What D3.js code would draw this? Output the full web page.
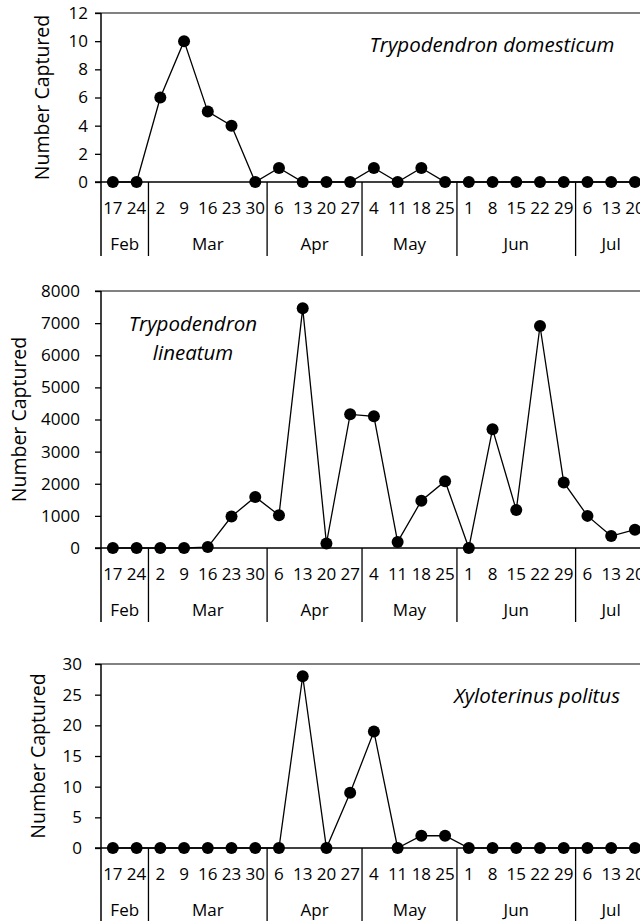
<!DOCTYPE html>
<html lang="en">

<head>
  <meta charset="UTF-8">
  <title>Bark beetle captures</title>
  <script src="https://d3js.org/d3.v7.min.js"></script>
  <style>
    body {
      margin: 0;
      background: #fff;
    }

    svg {
      display: block;
      font-family: "Open Sans", sans-serif;
    }
  </style>
</head>

<body>
  <div id="chart"></div>

  <script>
    // sample dates (week of the year), grouped by month
    const days = ["17", "24", "2", "9", "16", "23", "30", "6", "13", "20", "27",
      "4", "11", "18", "25", "1", "8", "15", "22", "29", "6", "13", "20"];
    const months = [
      { name: "Feb", count: 2 },
      { name: "Mar", count: 5 },
      { name: "Apr", count: 4 },
      { name: "May", count: 4 },
      { name: "Jun", count: 5 },
      { name: "Jul", count: 3 }
    ];

    const domesticum = [0, 0, 6, 10, 5, 4, 0, 1, 0, 0, 0, 1, 0, 1, 0, 0, 0, 0, 0, 0, 0, 0, 0];
    const lineatum = [0, 0, 0, 0, 30, 980, 1590, 1020, 7460, 140, 4160, 4100, 190, 1470, 2080,
      0, 3700, 1180, 6910, 2040, 1000, 370, 570];
    const politus = [0, 0, 0, 0, 0, 0, 0, 0, 28, 0, 9, 19, 0, 2, 2, 0, 0, 0, 0, 0, 0, 0, 0];

    const panels = [
      { values: domesticum, max: 12, step: 2, title: ["Trypodendron domesticum"], top: 13, bottom: 182, titleX: 492, titleY: 52, labelX: 42, pad: 7 },
      { values: lineatum, max: 8000, step: 1000, title: ["Trypodendron", "lineatum"], top: 291, bottom: 548, titleX: 193, titleY: 331, labelX: 19, pad: 15 },
      { values: politus, max: 30, step: 5, title: ["Xyloterinus politus"], top: 664, bottom: 848, titleX: 537, titleY: 703, labelX: 38, pad: 13 }
    ];

    const width = 640;
    const height = 921;
    const axisX = 101;
    const band = 23.73;

    const svg = d3.select("#chart")
      .append("svg")
      .attr("width", width)
      .attr("height", height);

    const x = d3.scaleBand()
      .domain(d3.range(days.length))
      .range([axisX, axisX + band * days.length])
      .padding(0);

    // month boundaries, as indexes of the first day in each month
    let start = 0;
    const monthInfo = months.map(m => {
      const info = { name: m.name, from: start, to: start + m.count };
      start += m.count;
      return info;
    });

    panels.forEach(p => {
      const y = d3.scaleLinear()
        .domain([0, p.max])
        .range([p.bottom, p.top]);

      const g = svg.append("g");

      // top border of the plot area
      g.append("line")
        .attr("x1", axisX - 6)
        .attr("x2", width)
        .attr("y1", y(p.max))
        .attr("y2", y(p.max))
        .attr("stroke", "#595959")
        .attr("stroke-width", 1.5);

      // y axis
      const yAxis = g.append("g")
        .attr("transform", `translate(${axisX},0)`)
        .call(d3.axisLeft(y)
          .tickValues(d3.range(0, p.max + 1, p.step))
          .tickFormat(d3.format("d"))
          .tickSize(6)
          .tickPadding(p.pad));
      yAxis.select(".domain").remove();
      yAxis.selectAll(".tick line").attr("stroke", "#000").attr("stroke-width", 1.3);
      yAxis.selectAll(".tick text")
        .attr("font-size", 17)
        .attr("font-family", "Open Sans, sans-serif")
        .attr("fill", "#000");

      g.append("line")
        .attr("x1", axisX)
        .attr("x2", axisX)
        .attr("y1", y(p.max))
        .attr("y2", p.bottom + 74)
        .attr("stroke", "#000")
        .attr("stroke-width", 1.5);

      // zero line
      g.append("line")
        .attr("x1", axisX - 6)
        .attr("x2", width)
        .attr("y1", y(0))
        .attr("y2", y(0))
        .attr("stroke", "#000")
        .attr("stroke-width", 1.5);

      // month separators
      monthInfo.slice(1).forEach(m => {
        g.append("line")
          .attr("x1", x(m.from))
          .attr("x2", x(m.from))
          .attr("y1", y(0))
          .attr("y2", p.bottom + 74)
          .attr("stroke", "#000")
          .attr("stroke-width", 1.3);
      });

      // day labels
      g.selectAll(".day")
        .data(days)
        .enter()
        .append("text")
        .attr("class", "day")
        .attr("x", (d, i) => x(i) + x.bandwidth() / 2)
        .attr("y", p.bottom + 32)
        .attr("text-anchor", "middle")
        .attr("font-size", 17)
        .text(d => d);

      // month labels
      g.selectAll(".month")
        .data(monthInfo)
        .enter()
        .append("text")
        .attr("class", "month")
        .attr("x", d => x(d.from) + band * (d.to - d.from) / 2)
        .attr("y", p.bottom + 68)
        .attr("text-anchor", "middle")
        .attr("font-size", 17)
        .text(d => d.name);

      // y title
      g.append("text")
        .attr("transform", `translate(${p.labelX},${(p.top + p.bottom) / 2}) rotate(-90)`)
        .attr("text-anchor", "middle")
        .attr("dy", "0.35em")
        .attr("font-size", 19.5)
        .text("Number Captured");

      // series line and markers
      const line = d3.line()
        .x((d, i) => x(i) + x.bandwidth() / 2)
        .y(d => y(d));

      g.append("path")
        .datum(p.values)
        .attr("d", line)
        .attr("fill", "none")
        .attr("stroke", "#000")
        .attr("stroke-width", 1.3);

      g.selectAll(".dot")
        .data(p.values)
        .enter()
        .append("circle")
        .attr("class", "dot")
        .attr("cx", (d, i) => x(i) + x.bandwidth() / 2)
        .attr("cy", d => y(d))
        .attr("r", 6)
        .attr("fill", "#000");

      // species name
      const title = g.append("text")
        .attr("x", p.titleX)
        .attr("y", p.titleY)
        .attr("text-anchor", "middle")
        .attr("font-size", 20.5)
        .attr("font-style", "italic");
      title.selectAll("tspan")
        .data(p.title)
        .enter()
        .append("tspan")
        .attr("x", p.titleX)
        .attr("dy", (d, i) => i === 0 ? 0 : 29)
        .text(d => d);
    });
  </script>
</body>

</html>
